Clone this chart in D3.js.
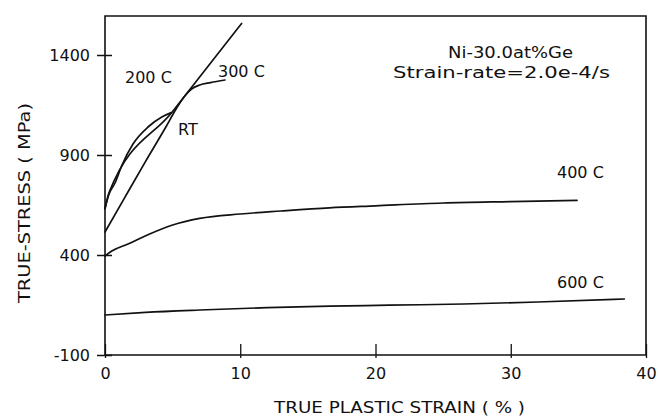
<!DOCTYPE html>
<html>
<head>
<meta charset="utf-8">
<script src="https://cdn.jsdelivr.net/npm/d3@7/dist/d3.min.js"></script>
<style>
  html, body { margin: 0; padding: 0; background: #fff; }
  svg { display: block; }
  text { font-family: "DejaVu Sans", sans-serif; fill: #111; }
</style>
</head>
<body>
<svg id="chart" width="658" height="416"></svg>
<script>
// ---- data (strain %, true stress MPa) ----
const xTicks = [0, 10, 20, 30, 40];
const yTicks = [-100, 400, 900, 1400];
const yTickLabels = ["-100", "400", "900", "1400"];

const seriesNames = ["RT", "200 C", "300 C", "400 C", "600 C"];
const rtStrain   = [0, 0.3, 5, 10.1];
const rtStress   = [630, 712, 1118, 1558];
const c200Strain = [0, 0.3, 0.74, 1.26, 2.07, 3.18, 4.2, 4.9];
const c200Stress = [635, 705, 760, 850, 955, 1040, 1090, 1112];
const c300Strain = [0, 1.33, 3, 4.5, 5.3, 5.9, 6.4, 7.0, 7.8, 8.87];
const c300Stress = [515, 672, 868, 1040, 1135, 1195, 1230, 1250, 1262, 1275];
const c400Strain = [0, 0.5, 1.7, 3.3, 5, 7, 10, 13, 16.6, 20, 25, 30, 34.9];
const c400Stress = [395, 420, 455, 505, 550, 583, 605, 620, 636, 646, 660, 667, 673];
const c600Strain = [0, 3, 7, 12, 16.6, 21, 26.5, 32, 38.4];
const c600Stress = [100, 113, 125, 137, 144, 149, 155, 165, 180];

const xDomain = [0, 40];
const yDomain = [-100, 1595];

// ---- layout ----
const svg = d3.select("#chart");
const mLeft = 105, mRight = 646, mTop = 16, mBottom = 355;
const x = d3.scaleLinear().domain(xDomain).range([mLeft, mRight]);
const y = d3.scaleLinear().domain(yDomain).range([mBottom, mTop]);

const zip = (a, b) => a.map((v, i) => [v, b[i]]);
const series = [
  zip(rtStrain, rtStress),
  zip(c200Strain, c200Stress),
  zip(c300Strain, c300Stress),
  zip(c400Strain, c400Stress),
  zip(c600Strain, c600Stress)
];

// frame
svg.append("path")
  .attr("d", `M${mLeft},${mBottom}V${mTop}H${mRight}V${mBottom}Z`)
  .attr("fill", "none").attr("stroke", "#111").attr("stroke-width", 1.6);

// y axis ticks
const yAxis = svg.append("g").attr("transform", `translate(${mLeft},0)`)
  .call(d3.axisLeft(y).tickValues(yTicks).tickSize(8).tickPadding(7)
        .tickFormat((d, i) => yTickLabels[i]));
yAxis.select(".domain").remove();
yAxis.selectAll(".tick line").attr("x2", 7).attr("x1", -8).attr("stroke", "#111").attr("stroke-width", 1.5);
yAxis.selectAll(".tick text").attr("font-size", 16).attr("font-family", "DejaVu Sans").attr("fill", "#111")
  .attr("x", -15).attr("dy", "0.36em");

// x axis ticks
const xAxis = svg.append("g").attr("transform", `translate(0,${mBottom})`)
  .call(d3.axisBottom(x).tickValues(xTicks).tickSize(3).tickPadding(10).tickFormat(d3.format("d")));
xAxis.select(".domain").remove();
xAxis.selectAll(".tick line").attr("y1", -11).attr("y2", 3).attr("stroke", "#111").attr("stroke-width", 1.3);
xAxis.selectAll(".tick text").attr("font-size", 16).attr("font-family", "DejaVu Sans").attr("fill", "#111")
  .attr("y", 13).attr("dy", "0.71em");

// curves
const line = d3.line().x(d => x(d[0])).y(d => y(d[1])).curve(d3.curveMonotoneX);
svg.append("g").selectAll("path").data(series).join("path")
  .attr("d", line).attr("fill", "none").attr("stroke", "#111")
  .attr("stroke-width", 1.7).attr("stroke-linejoin", "round").attr("stroke-linecap", "round");

// curve labels
const labels = [
  {t: "200 C", x: 125, y: 83},
  {t: "300 C", x: 218, y: 77},
  {t: "RT", x: 178, y: 135},
  {t: "400 C", x: 557, y: 178},
  {t: "600 C", x: 557, y: 288}
];
svg.append("g").selectAll("text").data(labels).join("text")
  .attr("x", d => d.x).attr("y", d => d.y).attr("font-size", 16).text(d => d.t);

// annotation
svg.append("text").attr("x", 448).attr("y", 58).attr("font-size", 15)
  .attr("textLength", 125).attr("lengthAdjust", "spacingAndGlyphs").text("Ni-30.0at%Ge");
svg.append("text").attr("x", 393).attr("y", 78).attr("font-size", 15)
  .attr("textLength", 217).attr("lengthAdjust", "spacingAndGlyphs").text("Strain-rate=2.0e-4/s");

// axis titles
svg.append("text").attr("x", 274).attr("y", 413).attr("font-size", 16)
  .attr("textLength", 251).attr("lengthAdjust", "spacingAndGlyphs")
  .text("TRUE PLASTIC STRAIN ( % )");
svg.append("text").attr("transform", "translate(30,203) rotate(-90)")
  .attr("text-anchor", "middle").attr("font-size", 16)
  .attr("textLength", 200).attr("lengthAdjust", "spacingAndGlyphs")
  .text("TRUE-STRESS ( MPa)");
</script>
</body>
</html>
